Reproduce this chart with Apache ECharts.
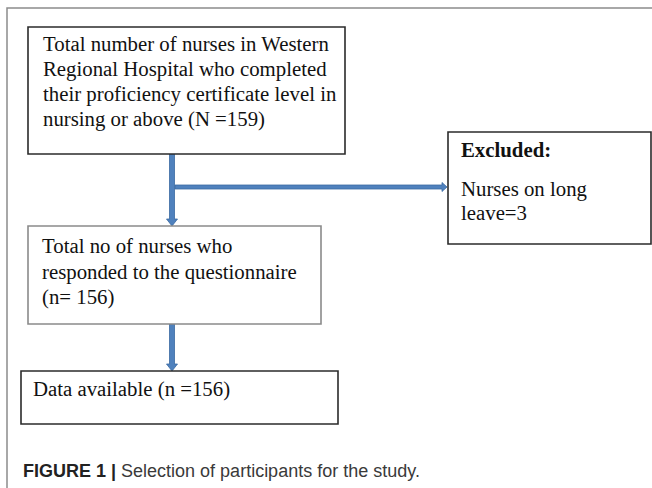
<!DOCTYPE html>
<html>
<head>
<meta charset="utf-8">
<script src="https://cdn.jsdelivr.net/npm/echarts@6/dist/echarts.min.js"></script>
<style>
    html, body { margin: 0; padding: 0; background: #fff; }
    #chart { width: 652px; height: 488px; }
</style>
</head>
<body>
<div id="chart"></div>
<script>
// flowchart content
const boxLines = [
    ['Total number of nurses in Western', 'Regional Hospital who completed', 'their proficiency certificate level in', 'nursing or above (N =159)'],
    ['Excluded:', 'Nurses on long', 'leave=3'],
    ['Total no of nurses who', 'responded to the questionnaire', '(n= 156)'],
    ['Data available (n =156)']
]
const boldFirstLine = [false, true, false, false]

// layout (pixel units on hidden axes): [x0, y0, x1, y1]
const boxRects = [[28, 27, 345, 154], [448, 132, 651, 244], [28, 226, 321, 324], [21, 371, 338, 424]]
const boxBorder = ['#2b2b2b', '#2b2b2b', '#8a8a8a', '#2b2b2b']
const textPad = [15, 13, 14, 12]
const textBaselines = [[23, 48, 73, 98], [24, 63, 87], [26, 52, 77], [24]]

// arrows: [xStart, yStart, xEnd, yEnd]
const arrows = [[172, 154, 172, 226], [175, 187, 447, 187], [172, 324, 172, 371]]
const shaftWidth = [5, 4, 5]
const headWidth = [11, 9, 11]
const headLength = [7, 5, 7]

const caption = 'Selection of participants for the study.'

const myChart = echarts.init(document.getElementById('chart'), null, { renderer: 'svg' })

function renderBox(params, api) {
    const i = params.dataIndex
    const r = boxRects[i]
    const p0 = api.coord([r[0], r[1]])
    const p1 = api.coord([r[2], r[3]])
    const children = [{
        type: 'rect',
        shape: { x: p0[0], y: p0[1], width: p1[0] - p0[0], height: p1[1] - p0[1] },
        style: { fill: '#fff', stroke: boxBorder[i], lineWidth: 1.6 }
    }]
    boxLines[i].forEach((line, j) => {
        children.push({
            type: 'text',
            style: {
                x: p0[0] + textPad[i],
                y: p0[1] + textBaselines[i][j] - 7,
                text: line,
                fill: '#111',
                font: (boldFirstLine[i] && j === 0 ? 'bold ' : '') + '20.8px "Liberation Serif"',
                align: 'left',
                verticalAlign: 'middle'
            }
        })
    })
    return { type: 'group', children: children }
}

function renderArrow(params, api) {
    const i = params.dataIndex
    const a = arrows[i]
    const s = api.coord([a[0], a[1]])
    const e = api.coord([a[2], a[3]])
    const dx = e[0] - s[0], dy = e[1] - s[1]
    const len = Math.sqrt(dx * dx + dy * dy)
    const ux = dx / len, uy = dy / len
    const nx = -uy, ny = ux
    const sw = shaftWidth[i] / 2, hw = headWidth[i] / 2
    const bx = e[0] - ux * headLength[i], by = e[1] - uy * headLength[i]
    const pts = [
        [s[0] + nx * sw, s[1] + ny * sw],
        [bx + nx * sw, by + ny * sw],
        [bx + nx * hw, by + ny * hw],
        [e[0], e[1]],
        [bx - nx * hw, by - ny * hw],
        [bx - nx * sw, by - ny * sw],
        [s[0] - nx * sw, s[1] - ny * sw]
    ]
    return {
        type: 'polygon',
        shape: { points: pts },
        style: { fill: '#4f81bd', stroke: '#3a6aa2', lineWidth: 0.8 }
    }
}

function renderFrame(params, api) {
    const tl = api.coord([7, 8])
    const tr = api.coord([652, 8])
    const bl = api.coord([7, 488])
    return {
        type: 'polyline',
        shape: { points: [tr, tl, bl] },
        style: { fill: null, stroke: '#8c8c8c', lineWidth: 1.5 }
    }
}

const option = {
    backgroundColor: '#fff',
    animation: false,
    title: {
        text: '{b|FIGURE 1 |} ' + caption,
        left: 23,
        top: 462,
        padding: 0,
        textStyle: {
            fontFamily: 'Liberation Sans',
            fontSize: 18,
            fontWeight: 'normal',
            color: '#3a3a3a',
            rich: {
                b: { fontFamily: 'Liberation Sans', fontSize: 18, fontWeight: 'bold', color: '#222' }
            }
        }
    },
    grid: { left: 0, right: 0, top: 0, bottom: 0 },
    xAxis: { type: 'value', min: 0, max: 652, show: false },
    yAxis: { type: 'value', min: 0, max: 488, inverse: true, show: false },
    series: [
        {
            type: 'custom',
            renderItem: renderFrame,
            data: [0],
            silent: true
        },
        {
            type: 'custom',
            renderItem: renderArrow,
            data: arrows.map((a, i) => i),
            silent: true
        },
        {
            type: 'custom',
            renderItem: renderBox,
            data: boxLines.map((b, i) => i),
            silent: true
        }
    ]
}

myChart.setOption(option)
</script>
</body>
</html>
